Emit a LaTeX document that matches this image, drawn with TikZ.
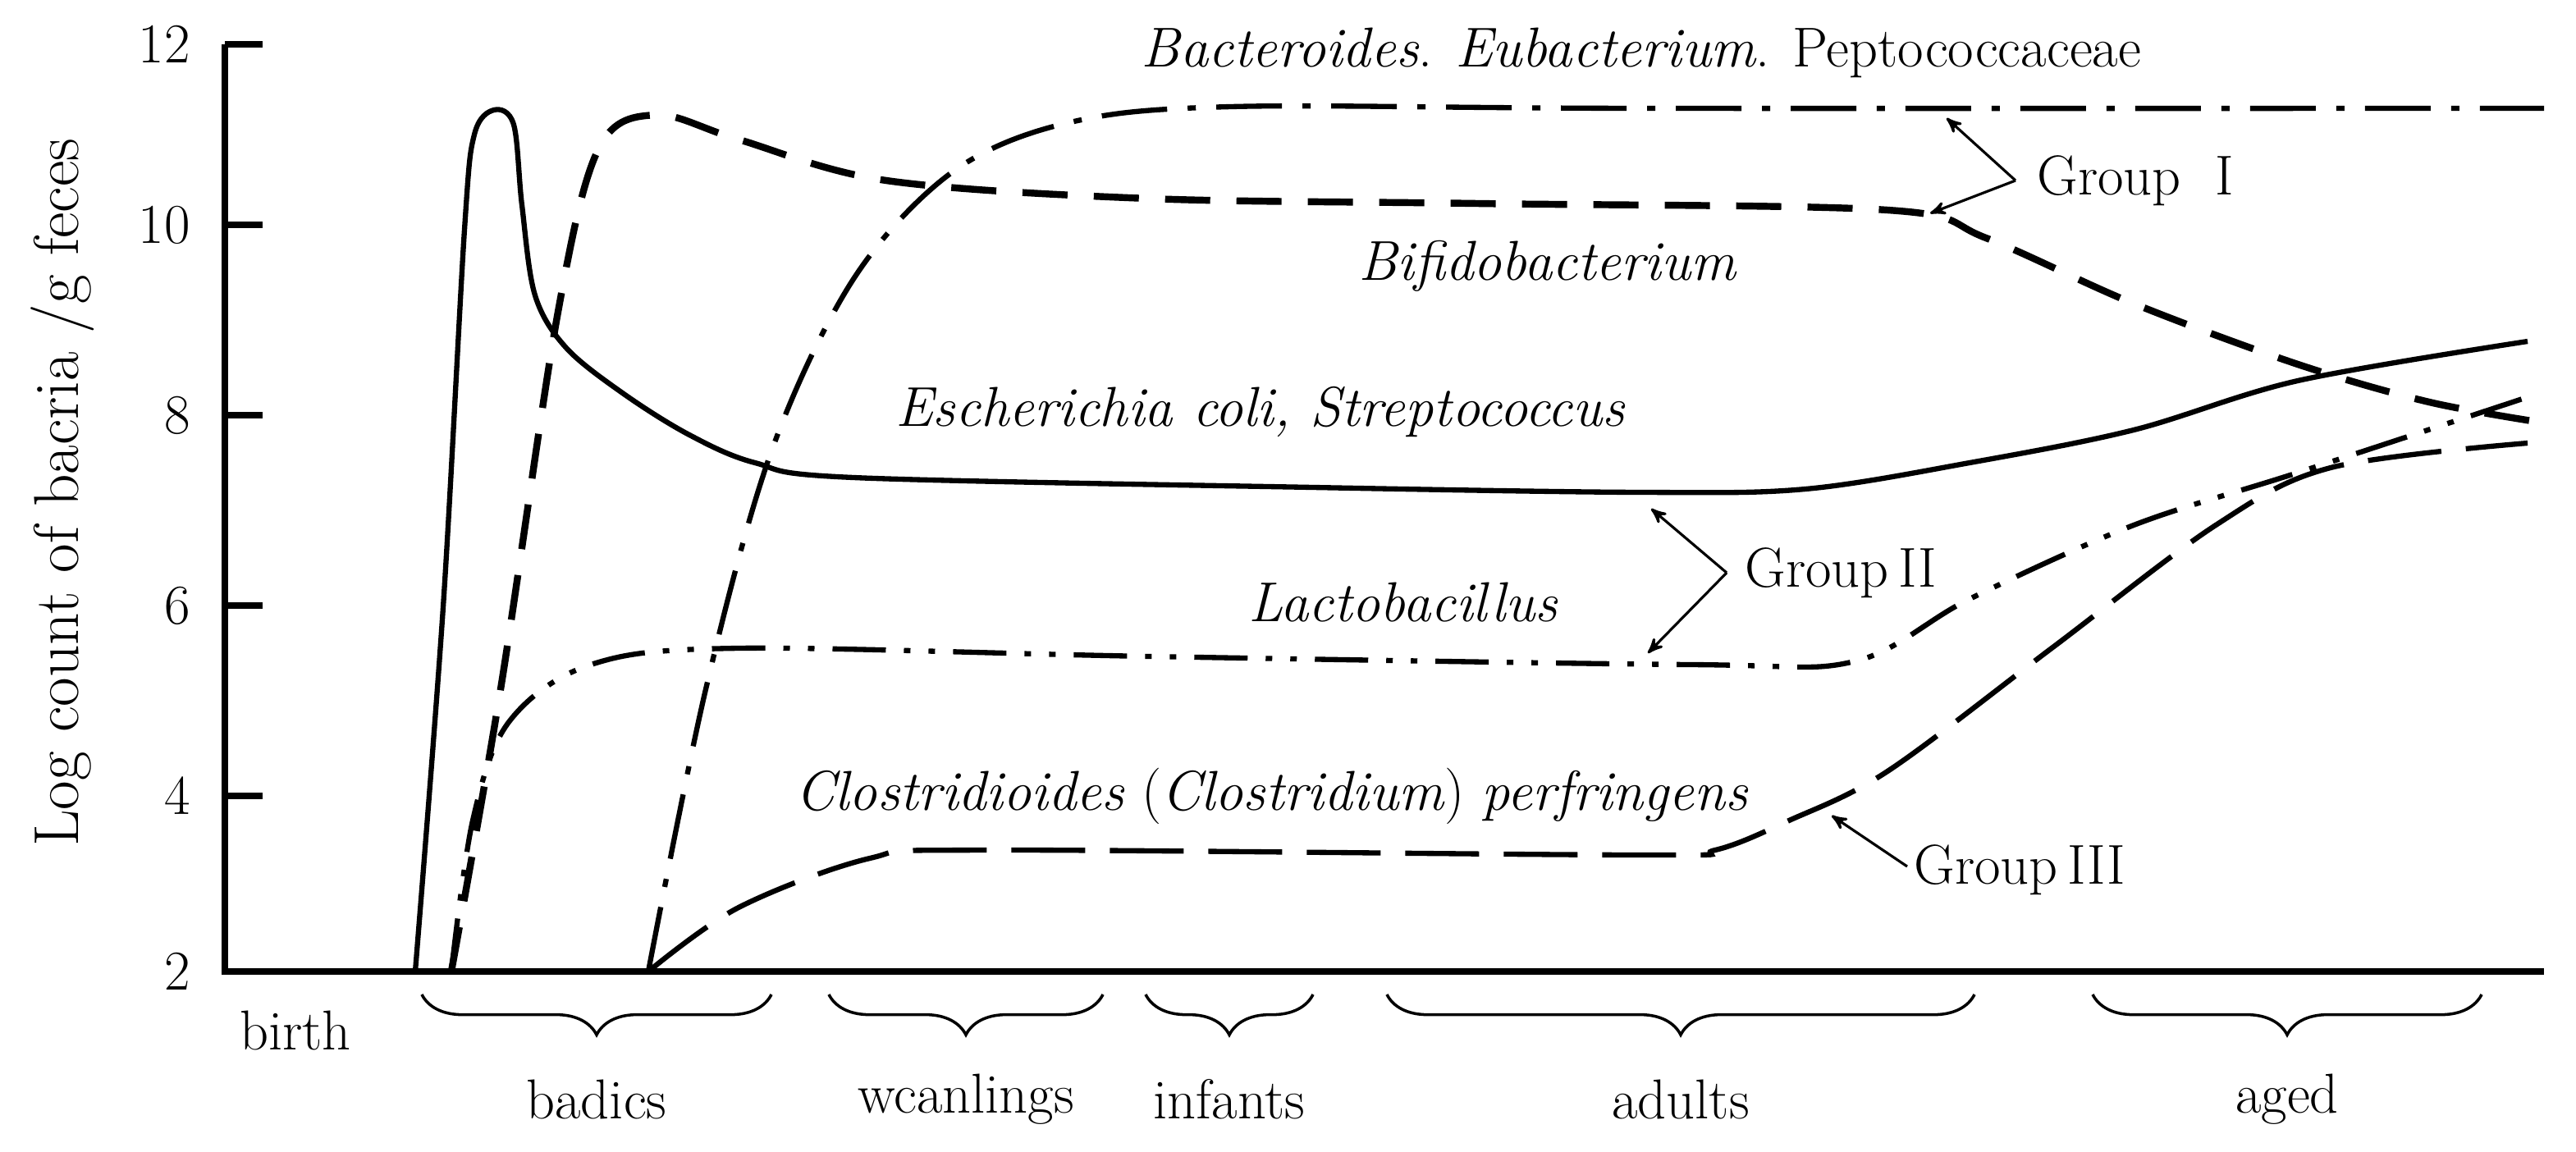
\documentclass[tikz,border=0pt]{standalone}
\usepackage{tikz}
\usetikzlibrary{arrows,decorations.pathreplacing}

\begin{document}
\begin{tikzpicture}[x=0.02cm,y=-0.02cm,>=stealth',
                    every node/.style={font=\fontsize{19.5}{22}\selectfont},
                    axis/.style={line width=2.4pt},
                    curve/.style={line width=1.8pt,smooth,tension=0.55},
                    group arrow/.style={line width=0.9pt,->},
                    age brace/.style={line width=1pt,decorate,decoration={brace,mirror,amplitude=14pt}}]

  \useasboundingbox (0,0) rectangle (1569.5,701.5);

  % axes
  \coordinate (origin) at (137,592);
  \coordinate (ytop) at (137,27);
  \coordinate (xend) at (1550,592);
  \draw[axis] (ytop) -- (origin) -- (xend);
  \foreach \v/\y in {12/27,10/137,8/253,6/369,4/485,2/592}{
    \draw[axis] (137,\y) -- (160,\y);
    \node[anchor=east] (tick\v) at (122,\y) {\v};
  }
  \node[rotate=90] (ylabel) at (38,300) {\fontsize{22}{24}\selectfont Log count of bacria /g feces};

  % curves
  \draw[curve] plot coordinates {(253,592) (270,370) (283,140) (289,82) (301,67) (313,76) (318,125) (326,180) (345,212) (380,240) (420,265) (460,282) (520,291) (800,297) (1000,300) (1100,298) (1200,282) (1300,262) (1400,232) (1540,208)};
  \draw[curve,line width=2.4pt,dash pattern=on 0.55cm off 0.32cm] plot coordinates {(275,592) (305,420) (340,190) (365,90) (400,70) (450,85) (540,110) (700,121) (900,124) (1150,128) (1210,145) (1300,185) (1400,222) (1480,245) (1552,258)};
  \draw[curve,dash pattern=on 0.8cm off 0.25cm on 0.1cm off 0.25cm] plot coordinates {(395,592) (430,420) (470,275) (520,170) (580,105) (650,75) (750,65) (1000,66) (1550,66)};
  \draw[curve,dash pattern=on 0.65cm off 0.22cm on 0.08cm off 0.22cm on 0.08cm off 0.22cm] plot coordinates {(275,592) (288,500) (310,440) (360,405) (450,395) (700,400) (1030,405) (1130,403) (1200,365) (1300,320) (1400,288) (1540,242)};
  \draw[curve,dash pattern=on 0.9cm off 0.3cm] plot coordinates {(395,592) (450,553) (530,523) (600,518) (1000,521) (1045,518) (1090,500) (1150,470) (1250,395) (1350,320) (1420,285) (1540,270)};

  % species labels
  \node (bact) at (1000,32) {\textit{Bacteroides}. \textit{Eubacterium}. Peptococcaceae};
  \node (bifido) at (943,162) {\textit{Bifidobacterium}};
  \node (ecoli) at (768,251) {\textit{Escherichia coli, Streptococcus}};
  \node (lacto) at (855,367) {\textit{Lactobacillus}};
  \node (clost) at (775,485) {\textit{Clostridioides} (\textit{Clostridium}) \textit{perfringens}};

  % groups
  \node[anchor=west] (g1) at (1235,110) {Group\ \ I};
  \node[anchor=west] (g2) at (1057,349) {Group\,II};
  \node[anchor=west] (g3) at (1160,530) {Group\,III};
  \coordinate (g1v) at (1228,110);
  \coordinate (g1a) at (1186,72);
  \coordinate (g1b) at (1176,130);
  \coordinate (g2v) at (1052,349);
  \coordinate (g2a) at (1006,310);
  \coordinate (g2b) at (1004,398);
  \coordinate (g3v) at (1162,528);
  \coordinate (g3a) at (1116,497);
  \draw[group arrow] (g1v) -- (g1a);
  \draw[group arrow] (g1v) -- (g1b);
  \draw[group arrow] (g2v) -- (g2a);
  \draw[group arrow] (g2v) -- (g2b);
  \draw[group arrow] (g3v) -- (g3a);

  % ages
  \node (birth) at (180,628) {birth};
  \foreach \a/\b/\name/\txt in {257/470/badics/badics,505/672/wean/wcanlings,698/800/inf/infants,845/1203/adult/adults,1275/1512/aged/aged}{
    \draw[age brace] (\a,606) -- (\b,606);
    \node (\name) at ({(\a+\b)/2},670) {\txt};
  }

\end{tikzpicture}
\end{document}
